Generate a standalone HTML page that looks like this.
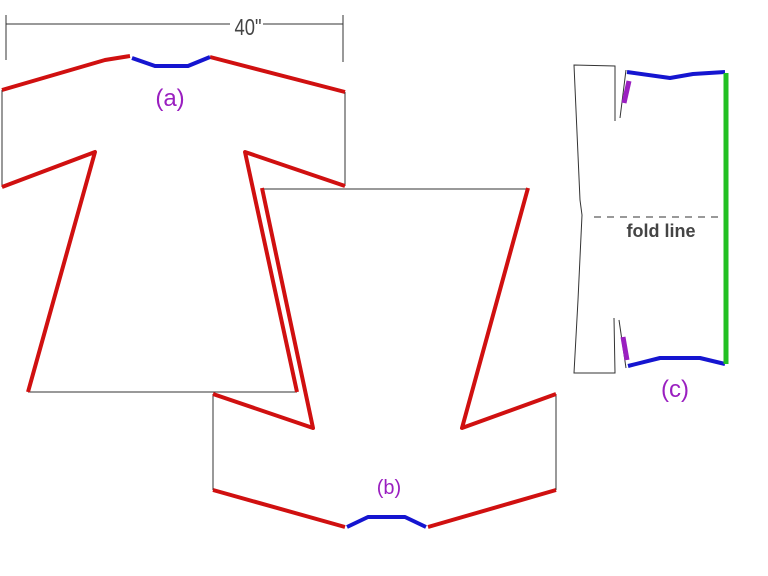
<!DOCTYPE html>
<html><head><style>body{margin:0;background:#fff}svg{display:block}</style></head><body>
<svg width="768" height="576" viewBox="0 0 768 576" xmlns="http://www.w3.org/2000/svg">
<g stroke="#333" stroke-width="1" fill="none">
<line x1="6" y1="24" x2="230" y2="24"/><line x1="263" y1="24" x2="343" y2="24"/>
<line x1="6" y1="15" x2="6" y2="60"/><line x1="343" y1="15" x2="343" y2="62"/>
<line x1="2" y1="90" x2="2" y2="187"/><line x1="345" y1="92" x2="345" y2="186"/>
<line x1="28" y1="392" x2="297" y2="392"/>
<line x1="262" y1="189" x2="528" y2="189"/>
<line x1="213" y1="394" x2="213" y2="490"/><line x1="556" y1="394" x2="556" y2="490"/>
<polyline points="615,121 615,66 574,65 580,200 582,215 578,300 574,373 615,373 614,318"/>
<polyline points="620,118 626,70"/><polyline points="619,320 626,368"/>
<line x1="594" y1="217" x2="720" y2="217" stroke-dasharray="7,6"/>
</g>
<text transform="translate(248,35) scale(0.8,1)" font-family="Liberation Sans, sans-serif" font-size="23" fill="#444" text-anchor="middle">40"</text>
<g stroke="#d01010" stroke-width="4" fill="none" stroke-linejoin="round">
<polyline points="2,90 105,60 130,56"/>
<line x1="210" y1="57" x2="345" y2="92"/>
<polyline points="2,187 95,152 28,392"/>
<polyline points="345,186 245,152 297,392"/>
<polyline points="262,188 313,428 213,394"/>
<polyline points="528,188 462,428 556,394"/>
<polyline points="213,490 345,527"/>
<polyline points="428,527 556,490"/>
</g>
<g stroke="#1515d0" stroke-width="4" fill="none" stroke-linejoin="round">
<polyline points="132,58 155,66 188,66 210,57"/>
<polyline points="347,527 368,517 405,517 426,527"/>
<polyline points="627,72 670,78 693,74 725,72"/>
<polyline points="628,366 660,358 700,358 725,364"/>
</g>
<line x1="726" y1="73" x2="726" y2="364" stroke="#22c022" stroke-width="5"/>
<g stroke="#9a1fc0" stroke-width="5">
<line x1="629" y1="81" x2="624" y2="103"/><line x1="623" y1="337" x2="627" y2="360"/>
</g>
<g font-family="Liberation Sans, sans-serif" fill="#9a1fc0">
<text x="170" y="106" font-size="24" text-anchor="middle">(a)</text>
<text x="389" y="494" font-size="20" text-anchor="middle">(b)</text>
<text x="675" y="397" font-size="24" text-anchor="middle">(c)</text>
</g>
<text x="661" y="237" font-family="Liberation Sans, sans-serif" font-size="18" font-weight="bold" fill="#444" text-anchor="middle">fold line</text>
</svg>
</body></html>
